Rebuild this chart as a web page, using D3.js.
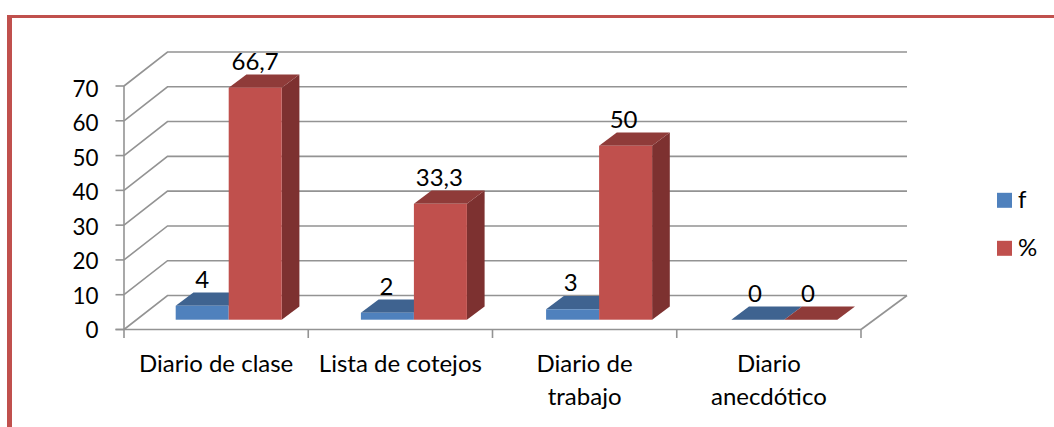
<!DOCTYPE html>
<html><head><meta charset="utf-8">
<script src="https://cdn.jsdelivr.net/npm/d3@7/dist/d3.min.js"></script>
<style>html,body{margin:0;padding:0;background:#fff}svg{display:block}text{font-family:Lato,sans-serif;fill:#000}</style>
</head><body><svg id="c" width="1054" height="427"></svg>
<script>
const categories = ["Diario de clase","Lista de cotejos","Diario de trabajo","Diario anecdótico"];
const categoryLines = [["Diario de clase"],["Lista de cotejos"],["Diario de","trabajo"],["Diario","anecdótico"]];
const seriesNames = ["f","%"];
const fValues = [4,2,3,0];
const pctValues = [66.7,33.3,50,0];
const pctLabels = ["66,7","33,3","50","0"];
const fLabels = ["4","2","3","0"];
const yTicks = [0,10,20,30,40,50,60,70];

const colors = {f:{front:"#4F81BD",top:"#3F6390"},"%":{front:"#C0504D",top:"#8F3B39",side:"#7D3130"}};
const grid = "#939393", FS = 24;
const svg = d3.select("#c");

// border
svg.append("rect").attr("x",7).attr("y",15).attr("width",1047).attr("height",3).attr("fill","#C0504D");
svg.append("rect").attr("x",7).attr("y",15).attr("width",5).attr("height",412).attr("fill","#C0504D");

// scales
const y = d3.scaleLinear().domain([0,70]).range([329.5,86]);
const x = d3.scaleBand().domain(categories).range([124,861]);
const dep = {x:43.5,y:-34};
const backRight = 907;
const barX = d3.scaleBand().domain(categories).range([136.1,876.9]).paddingInner(0.4276).paddingOuter(0.2138);
const serX = d3.scaleBand().domain(seriesNames).range([0,barX.bandwidth()]);
const barBase = -9.8, bd = {x:17.7,y:-13.3};

// walls
const g = svg.append("g").attr("fill","none").attr("stroke",grid).attr("stroke-width",1.6);
yTicks.forEach(t=>{
  g.append("path").attr("d",`M${x.range()[0]},${y(t)}l${dep.x},${dep.y}H${backRight}`);
});
g.append("path").attr("d",`M${x.range()[1]},${y(0)}L${backRight},${y(0)+dep.y}`);

// axes
const axL = d3.axisLeft(y).tickValues(yTicks).tickSize(8.5).tickPadding(0);
const gl = svg.append("g").attr("transform",`translate(${x.range()[0]},0)`).call(axL);
gl.select(".domain").attr("stroke",grid).attr("stroke-width",1.6).attr("d",`M0,${y(70)}V${y(0)}`);
gl.selectAll(".tick line").attr("stroke",grid).attr("stroke-width",1.6);
const labelY = d3.scaleLinear().domain([0,70]).range([338.2,96.7]);
gl.selectAll(".tick").attr("transform","translate(0,0)");
gl.selectAll(".tick line").attr("y1",d=>y(d)).attr("y2",d=>y(d));
gl.selectAll(".tick text").attr("x",-25.5).attr("dy",null).attr("y",d=>labelY(d)).attr("text-anchor","end")
  .attr("font-size",FS).attr("font-family",null).attr("textLength",d=>d===0?13:26).attr("lengthAdjust","spacingAndGlyphs");

const axB = d3.axisBottom(x).tickSize(0).tickPadding(0);
const gb = svg.append("g").attr("transform",`translate(0,${y(0)})`).call(axB);
gb.select(".domain").attr("stroke",grid).attr("stroke-width",1.6).attr("d",`M${x.range()[0]-8.5},0H${x.range()[1]}`);
gb.selectAll(".tick text").each(function(d,i){
  const t=d3.select(this).text(null).attr("y",null).attr("dy",null).attr("font-size",FS).attr("font-family",null);
  categoryLines[i].forEach((s,j)=>t.append("tspan").attr("x",0).attr("y",42.2+j*33.3).text(s));
});
[0,1,2,3,4].forEach(i=>{
  const px = x.range()[0]+i*x.step();
  gb.append("line").attr("x1",px).attr("x2",px).attr("y1",0).attr("y2",8.5).attr("stroke",grid).attr("stroke-width",1.6);
});

// bars
const base = y(0)+barBase;
const h = v => y(0)-y(v);
const rows = [{s:"f",vals:fValues,labels:fLabels},{s:"%",vals:pctValues,labels:pctLabels}];
rows.forEach(r=>{
  const c = colors[r.s];
  categories.forEach((cat,i)=>{
    const v=r.vals[i], x0=barX(cat)+serX(r.s), w=serX.bandwidth(), top=base-h(v);
    const b=svg.append("g");
    if(c.side && v>0) b.append("path").attr("fill",c.side).attr("d",`M${x0+w},${top}l${bd.x},${bd.y}V${base+bd.y}L${x0+w},${base}Z`);
    b.append("path").attr("fill",c.top).attr("d",`M${x0},${top}l${bd.x},${bd.y}h${w}l${-bd.x},${-bd.y}Z`);
    if(v>0) b.append("rect").attr("x",x0).attr("y",top).attr("width",w).attr("height",h(v)).attr("fill",c.front);
  });
});
// labels (on top)
rows.forEach((r,ri)=>{
  categories.forEach((cat,i)=>{
    svg.append("text").attr("text-anchor","middle").attr("font-size",FS)
      .attr("x",x(cat)+x.bandwidth()/2-14+ri*53)
      .attr("y",base-h(r.vals[i])+bd.y-4.5).text(r.labels[i]);
  });
});
// legend
const ly = d3.scalePoint().domain(seriesNames).range([200.3,248.3]);
seriesNames.forEach(s=>{
  svg.append("rect").attr("x",997).attr("y",ly(s)-7.5).attr("width",15).attr("height",15).attr("fill",colors[s].front);
  svg.append("text").attr("x",1018).attr("y",ly(s)+8).attr("font-size",FS).text(s);
});
</script></body></html>
